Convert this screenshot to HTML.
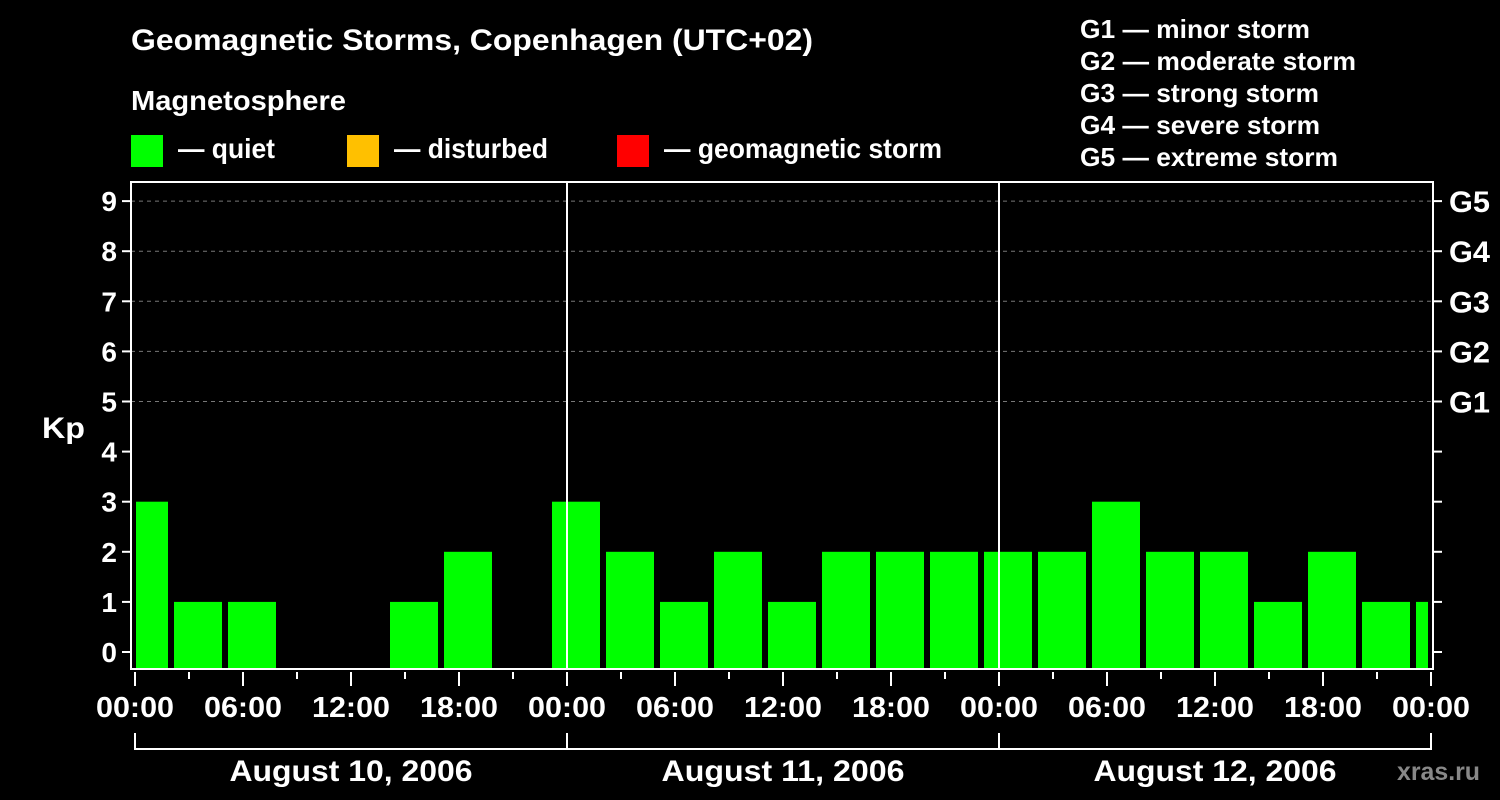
<!DOCTYPE html>
<html><head><meta charset="utf-8"><style>
body{margin:0;background:#000;width:1500px;height:800px;overflow:hidden}
svg{display:block;font-family:"Liberation Sans",sans-serif;font-weight:bold}
</style></head><body>
<svg id="c" width="1500" height="800">
<text x="131" y="50" fill="#fff" font-size="30" textLength="682" lengthAdjust="spacingAndGlyphs">Geomagnetic Storms, Copenhagen (UTC+02)</text>
<text x="131" y="110" fill="#fff" font-size="28" textLength="215" lengthAdjust="spacingAndGlyphs">Magnetosphere</text>
<g><rect x="131" y="135" width="32" height="32" fill="#00ff00"/><text x="178" y="158" fill="#fff" font-size="28" textLength="97" lengthAdjust="spacingAndGlyphs">— quiet</text></g>
<g><rect x="347" y="135" width="32" height="32" fill="#ffc000"/><text x="394" y="158" fill="#fff" font-size="28" textLength="154" lengthAdjust="spacingAndGlyphs">— disturbed</text></g>
<g><rect x="617" y="135" width="32" height="32" fill="#ff0000"/><text x="664" y="158" fill="#fff" font-size="28" textLength="278" lengthAdjust="spacingAndGlyphs">— geomagnetic storm</text></g>
<g fill="#fff" font-size="26">
<text x="1080" y="38" textLength="230" lengthAdjust="spacingAndGlyphs">G1 — minor storm</text><text x="1080" y="70" textLength="276" lengthAdjust="spacingAndGlyphs">G2 — moderate storm</text><text x="1080" y="102" textLength="239" lengthAdjust="spacingAndGlyphs">G3 — strong storm</text><text x="1080" y="134" textLength="240" lengthAdjust="spacingAndGlyphs">G4 — severe storm</text><text x="1080" y="166" textLength="258" lengthAdjust="spacingAndGlyphs">G5 — extreme storm</text></g>
<text x="42" y="438" fill="#fff" font-size="30" textLength="43" lengthAdjust="spacingAndGlyphs">Kp</text>
<text x="1397" y="780" fill="#888" font-size="25" textLength="83" lengthAdjust="spacingAndGlyphs">xras.ru</text>
<g id="grid"></g><g id="bars"></g><g id="axes"></g>
</svg>
<script>
const kpValues=[3,1,1,0,0,1,2,0,3,2,1,2,1,2,2,2,2,2,3,2,2,1,2,1,1];
const yTicks=[0,1,2,3,4,5,6,7,8,9];
const gLabels=["G1","G2","G3","G4","G5"];
const xTickLabels=["00:00","06:00","12:00","18:00","00:00","06:00","12:00","18:00","00:00","06:00","12:00","18:00","00:00"];
const dayLabels=["August 10, 2006","August 11, 2006","August 12, 2006"];
const NS="http://www.w3.org/2000/svg";
const L=131,R=1433,T=182,B=669,X0=135,DAY=432;
const y=v=>652-v*50.1;
const xh=h=>X0+h*18;
function mk(p,t,a){const e=document.createElementNS(NS,t);for(const k in a)e.setAttribute(k,a[k]);p.appendChild(e);return e;}
const grid=document.getElementById('grid'),bars=document.getElementById('bars'),axes=document.getElementById('axes');
yTicks.forEach(v=>{
 if(v>=5){const g=mk(grid,'line',{x1:L,x2:R,y1:y(v),y2:y(v),stroke:'#777','stroke-dasharray':'4,4'});
 
 }
 const t=mk(axes,'line',{x1:L-9,x2:L,y1:y(v),y2:y(v),stroke:'#fff','stroke-width':2});
 
 
 const r=mk(axes,'line',{x1:R,x2:R+9,y1:y(v),y2:y(v),stroke:'#fff','stroke-width':2});
 
 
 const l=mk(axes,'text',{x:L-14,y:y(v)+10,fill:'#fff','font-size':28,'text-anchor':'end'});l.textContent=v;
 
 
});
gLabels.forEach((g,i)=>{const t=mk(axes,'text',{x:1449,y:y(i+5)+11,fill:'#fff','font-size':30,textLength:41,lengthAdjust:'spacingAndGlyphs'});t.textContent=g;
 
 });
kpValues.forEach((v,i)=>{
 if(v<=0)return;
 let x1=X0+54*i-15,x2=x1+48;x1=Math.max(x1,L+5);x2=Math.min(x2,R-5);
 const b=mk(bars,'rect',{x:x1,y:y(v),width:x2-x1,height:B-1-y(v),fill:'#00ff00'});
 
 
});
[1,2].forEach(d=>{const s=mk(axes,'line',{x1:X0+d*DAY,x2:X0+d*DAY,y1:T,y2:B,stroke:'#fff','stroke-width':2});
 
 });
const box=mk(axes,'rect',{x:L,y:T,width:R-L,height:B-T,fill:'none',stroke:'#fff','stroke-width':2});


for(let k=0;k<=24;k++){const x=xh(3*k);const major=k%2==0;
 const t=mk(axes,'line',{x1:x,x2:x,y1:B+3,y2:major?B+17:B+10,stroke:'#fff','stroke-width':2});
 
 }
xTickLabels.forEach((s,i)=>{const t=mk(axes,'text',{x:xh(6*i),y:717,fill:'#fff','font-size':29,'text-anchor':'middle',textLength:78,lengthAdjust:'spacingAndGlyphs'});t.textContent=s;
 
 });
mk(axes,'line',{x1:X0,x2:X0+3*DAY,y1:749,y2:749,stroke:'#fff','stroke-width':2});
for(let d=0;d<=3;d++){const t=mk(axes,'line',{x1:X0+d*DAY,x2:X0+d*DAY,y1:733,y2:750,stroke:'#fff','stroke-width':2});
 
 }
dayLabels.forEach((s,i)=>{const t=mk(axes,'text',{x:X0+DAY*(i+0.5),y:781,fill:'#fff','font-size':30,'text-anchor':'middle',textLength:243,lengthAdjust:'spacingAndGlyphs'});t.textContent=s;
 
 });
</script>
</body></html>
